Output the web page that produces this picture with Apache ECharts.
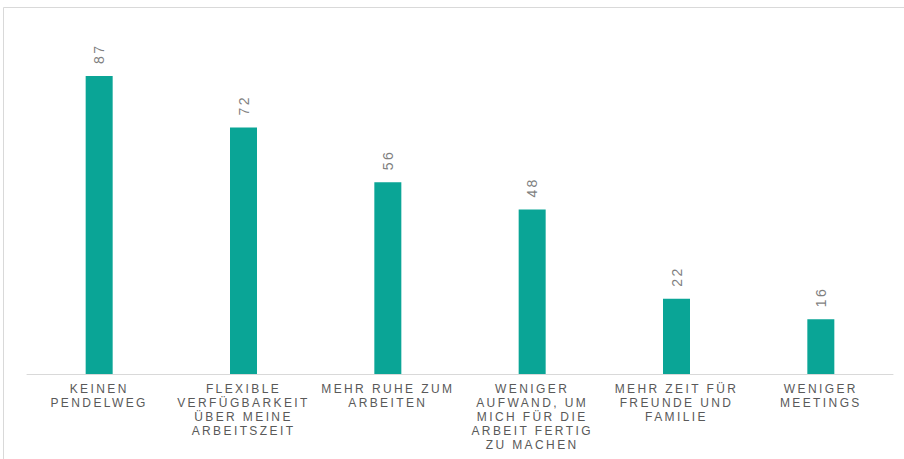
<!DOCTYPE html>
<html>
<head>
<meta charset="utf-8">
<script src="https://cdn.jsdelivr.net/npm/echarts@6/dist/echarts.min.js"></script>
<style>
  html, body { margin: 0; padding: 0; background: #fff; }
  /* svg renderer so the css letter-spacing reaches the text */
  #chart { width: 904px; height: 459px; letter-spacing: 2.4px; }
</style>
</head>
<body>
<div id="chart"></div>
<script>
const categories = [
  "KEINEN\nPENDELWEG",
  "FLEXIBLE\nVERFÜGBARKEIT\nÜBER MEINE\nARBEITSZEIT",
  "MEHR RUHE ZUM\nARBEITEN",
  "WENIGER\nAUFWAND, UM\nMICH FÜR DIE\nARBEIT FERTIG\nZU MACHEN",
  "MEHR ZEIT FÜR\nFREUNDE UND\nFAMILIE",
  "WENIGER\nMEETINGS"
];
const values = [87, 72, 56, 48, 22, 16];

const chart = echarts.init(document.getElementById("chart"), null, { renderer: "svg" });

const option = {
  animation: false,
  textStyle: { fontFamily: "'Liberation Sans', Arial, sans-serif" },
  graphic: [
    {
      type: "rect",
      silent: true,
      shape: { x: 3.5, y: 7.5, width: 1000, height: 1000 },
      style: { fill: "none", stroke: "#d9d9d9", lineWidth: 1 }
    }
  ],
  grid: { left: 27, right: 11, top: 31.5, height: 342.5 },
  xAxis: {
    type: "category",
    data: categories,
    axisTick: { show: false },
    axisLine: { lineStyle: { color: "#d9d9d9", width: 1 } },
    axisLabel: {
      interval: 0,
      color: "#595959",
      fontFamily: "'Liberation Sans', Arial, sans-serif",
      fontSize: 12,
      lineHeight: 14,
      margin: 8
    }
  },
  yAxis: {
    type: "value",
    min: 0,
    max: 100,
    show: false,
    splitLine: { show: false }
  },
  series: [
    {
      type: "bar",
      data: values,
      barWidth: 27,
      itemStyle: { color: "#0aa596" },
      label: {
        show: true,
        position: "top",
        rotate: 90,
        align: "left",
        verticalAlign: "middle",
        distance: 12,
        color: "#7f7f7f",
        fontFamily: "'Liberation Sans', Arial, sans-serif",
        fontSize: 14
      }
    }
  ]
};

chart.setOption(option);
</script>
</body>
</html>
